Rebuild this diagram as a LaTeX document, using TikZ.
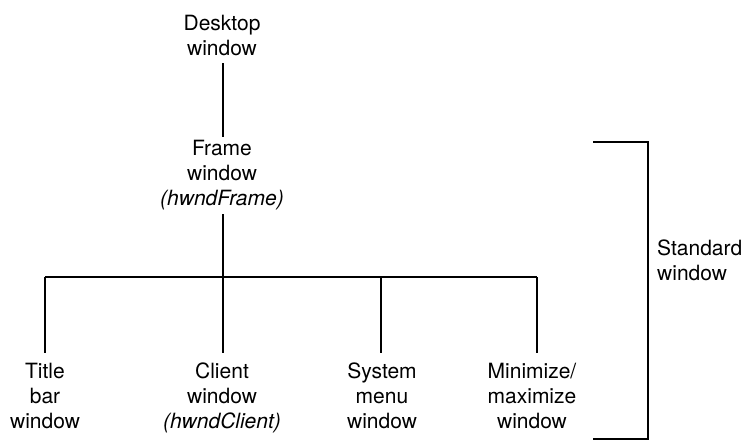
\documentclass[tikz,border=0pt]{standalone}
\usepackage{fontspec}
\setmainfont{TeX Gyre Heros}
\begin{document}
\begin{tikzpicture}[x=1pt,y=-1pt,
  lbl/.style={anchor=north,align=center,inner sep=0pt,
    font=\fontsize{21}{25}\selectfont},
  wire/.style={line width=1.5pt,line cap=butt}]
\useasboundingbox (0,0) rectangle (748,444);

% hierarchy labels
\node[lbl] (desk)  at (222,15)  {Desktop\\window};
\node[lbl] (frame) at (222,140) {Frame\\window\\\textit{(hwndFrame)}};
\node[lbl] (title) at (45,363)  {Title\\bar\\window};
\node[lbl] (client) at (222,363) {Client\\window\\\textit{(hwndClient)}};
\node[lbl] (sysm)  at (382,363) {System\\menu\\window};
\node[lbl] (minmax) at (532,363) {Minimize/\\maximize\\window};
\node[lbl,anchor=north west,align=left] (std) at (657,240) {Standard\\window};

% bus junctions
\coordinate (b1) at (45,277);
\coordinate (b2) at (223,277);
\coordinate (b3) at (381,277);
\coordinate (b4) at (537,277);

% bracket corners
\coordinate (k1) at (593,142);
\coordinate (k2) at (648,142);
\coordinate (k3) at (648,439);
\coordinate (k4) at (593,439);

% connectors
\draw[wire,shorten <=7pt,shorten >=3pt] (desk.south -| b2) -- (frame.north -| b2);
\draw[wire,shorten <=4pt] (frame.south -| b2) -- (b2);
\draw[wire] (b1) -- (b4);
\draw[wire,shorten >=10pt] (b1) -- (b1 |- title.north);
\draw[wire,shorten >=10pt] (b2) -- (b2 |- client.north);
\draw[wire,shorten >=10pt] (b3) -- (b3 |- sysm.north);
\draw[wire,shorten >=10pt] (b4) -- (b4 |- minmax.north);

% bracket grouping the standard window parts
\draw[wire] (k1) -- (k2) -- (k3) -- (k4);
\end{tikzpicture}
\end{document}
